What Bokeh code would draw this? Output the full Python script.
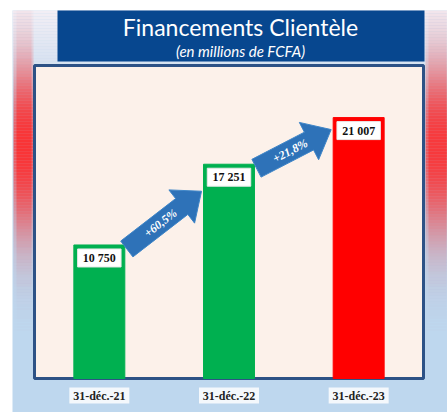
import math
import numpy as np
from bokeh.plotting import figure
from bokeh.models import Range1d, FactorRange
from bokeh.core.properties import value
from bokeh.embed import file_html
from bokeh.resources import INLINE

# ---------------- data ----------------
categories = ["31-déc.-21", "31-déc.-22", "31-déc.-23"]
encours = [10750, 17251, 21007]          # millions de FCFA
title_main = "Financements Clientèle"
title_sub = "(en millions de FCFA)"

# ---------------- layout / style (page pixels) ----------------
X0 = 10                                   # canvas left offset on the page
W, H = 437, 412
IN_L, IN_R, IN_T, IN_B = 34, 423, 65, 378  # inner chart box
Y_MAX = 25200
PX_X = 3 / (IN_R - IN_L)                  # synthetic x units per px
PX_Y = Y_MAX / (IN_B - IN_T)              # value units per px
BAR_W = 0.393
bar_colors = ["#00B050", "#00B050", "#FF0000"]
ARROW_COLOR = "#2E72B8"
TIP_DROP = [27, 12]                       # px below next bar top
SERIF = value("Liberation Serif")

def X(px):
    return (px - IN_L) * PX_X

def Y(py):
    return (IN_B - py) * PX_Y

pad_units = (IN_L - X0) * PX_X
p = figure(width=W, height=H,
           x_range=FactorRange(*categories, range_padding=2 * pad_units / 3,
                               range_padding_units="percent"),
           y_range=Range1d(Y(H), Y(0)), output_backend="svg",
           toolbar_location=None, x_axis_location=None, y_axis_location=None,
           min_border=0, margin=(0, 0, 0, X0))
p.xgrid.visible = False
p.ygrid.visible = False
p.outline_line_color = None
p.background_fill_color = "white"
p.border_fill_color = "white"

# ---- panel ----
p.quad(left=[X(12)], right=[X(448)], top=[Y(10)], bottom=[Y(414)],
       fill_color="#BED7EE", line_color=None)
ys = np.arange(10, 110, 3)
p.quad(left=X(12), right=X(448), top=Y(ys), bottom=Y(ys + 3),
       fill_color="#FFF4F6", fill_alpha=np.clip(1 - (ys - 10) / 100, 0, 1) * 0.8,
       line_color=None)
ys = np.arange(10, 330, 3)
yc = ys + 1.5
s = np.where(yc < 145, 72, 80)
ga = np.exp(-((yc - 145) / s) ** 2)
for l, r, k in [(13, 33, 0.7), (16, 31, 0.7), (425, 448, 0.7), (428, 446, 0.6)]:
    p.quad(left=X(l), right=X(r), top=Y(ys), bottom=Y(ys + 3),
           fill_color="#FF2424", fill_alpha=ga * k, line_color=None)

# ---- banner ----
p.quad(left=[X(57)], right=[X(424)], top=[Y(10)], bottom=[Y(61)],
       fill_color="#07478F", line_color=None)
p.text(x=[X(240)], y=[Y(26)], text=[title_main], text_align="center",
       text_baseline="middle", text_color="white", text_font=value("Lato"),
       text_font_size="23px")
p.text(x=[X(240)], y=[Y(50)], text=[title_sub], text_align="center",
       text_baseline="middle", text_color="white", text_font=value("Lato"),
       text_font_style="italic", text_font_size="15px")

# ---- inner chart box ----
p.quad(left=[X(IN_L)], right=[X(IN_R)], top=[Y(IN_T)], bottom=[Y(IN_B)],
       fill_color="#FCF1EA", line_color="#2D5286", line_width=3)

# ---- bars ----
p.vbar(x=categories, top=encours, width=BAR_W, fill_color=bar_colors,
       line_color=bar_colors, line_width=1)

# value boxes
label_y = [v - 13 * PX_Y for v in encours]
p.rect(x=categories, y=label_y, width=0.335, height=18, height_units="screen",
       fill_color="white", line_color="#E8E8E8", line_width=1)
p.text(x=categories, y=label_y,
       text=[f"{v:,}".replace(",", " ") for v in encours],
       text_align="center", text_baseline="middle", text_font=SERIF,
       text_font_style="bold", text_font_size="12px", text_color="#111111")

# ---- growth arrows (synthetic categorical coordinates: centers at i+0.5) ----
BODY, HEAD_W, HEAD_L = 10, 21, 25
for i in range(len(encours) - 1):
    tail = np.array([(i + 0.5 + BAR_W / 2) / PX_X + 2, (encours[i] - 4 * PX_Y) / PX_Y])
    tip = np.array([(i + 1.5 - BAR_W / 2) / PX_X - 2,
                    (encours[i + 1] - TIP_DROP[i] * PX_Y) / PX_Y])
    d = tip - tail
    u = d / np.hypot(*d)
    n = np.array([-u[1], u[0]])
    hb = tip - u * HEAD_L
    pts = [tail + n * BODY, hb + n * BODY, hb + n * HEAD_W, tip,
           hb - n * HEAD_W, hb - n * BODY, tail - n * BODY]
    xs = [float(pt[0] * PX_X) for pt in pts]
    yv = [float(pt[1] * PX_Y) for pt in pts]
    p.patch(xs, yv, fill_color=ARROW_COLOR, line_color="#3F86C8", line_width=1)
    growth = (encours[i + 1] / encours[i] - 1) * 100
    txt = ("+%.1f%%" % growth).replace(".", ",")
    c = tail + d * 0.45
    p.text(x=[float(c[0] * PX_X)], y=[float(c[1] * PX_Y)], text=[txt],
           angle=math.atan2(d[1], d[0]),
           text_align="center", text_baseline="middle", text_font=SERIF,
           text_font_style="bold italic", text_font_size="12px",
           text_color="white")

# ---- category labels ----
cat_y = Y(395)
p.rect(x=categories, y=cat_y, width=60, width_units="screen", height=16,
       height_units="screen", fill_color="#F4F8FC", line_color=None)
p.text(x=categories, y=cat_y, text=categories, text_align="center",
       text_baseline="middle", text_font=SERIF, text_font_style="bold",
       text_font_size="12px", text_color="#222222")

open("out.html", "w").write(file_html(p, INLINE))
